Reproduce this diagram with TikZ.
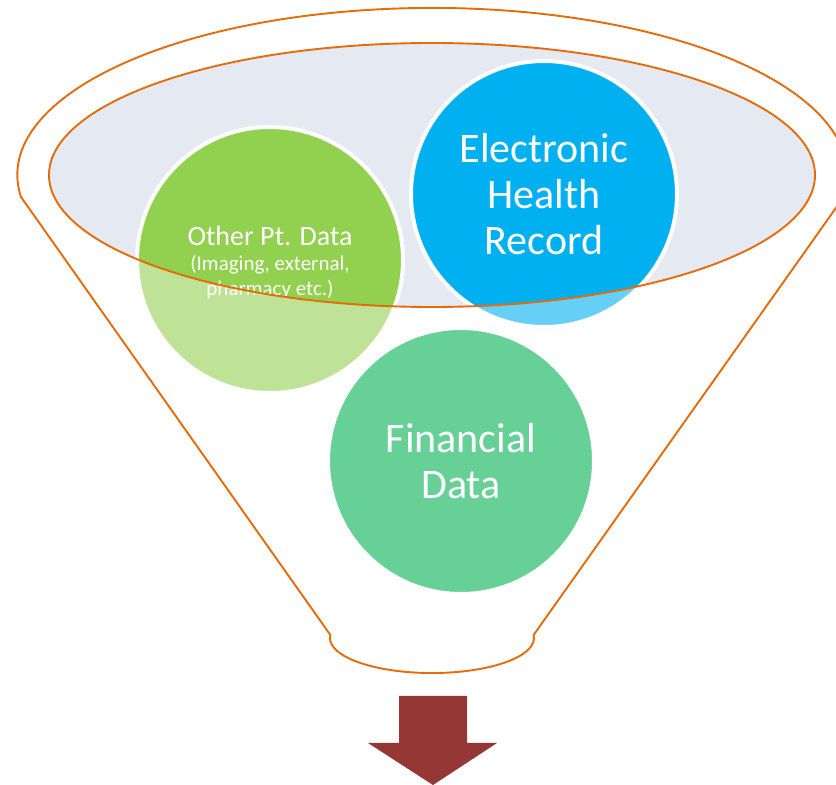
\documentclass[tikz,border=0pt]{standalone}
\usepackage{fontspec}
\setmainfont{Carlito}
\definecolor{funnelline}{HTML}{E46C0A}
\definecolor{innerfill}{HTML}{E4E9F2}
\definecolor{greenS}{HTML}{92D050}
\definecolor{greenL}{HTML}{BEE396}
\definecolor{blueS}{HTML}{00B0F0}
\definecolor{blueL}{HTML}{66CFF6}
\definecolor{finL}{HTML}{66D096}
\definecolor{arrowc}{HTML}{953735}
\tikzset{
  funnelstroke/.style={draw=funnelline, line width=1.9pt},
  bubble/.style={circle, minimum size=266pt, inner sep=0pt, outer sep=0pt},
  bubbletext/.style={text=white, align=center, inner sep=0pt},
  ringborder/.style={draw=white, line width=4pt},
}
\begin{document}
\begin{tikzpicture}[x=1pt,y=1pt]
\useasboundingbox (0,0) rectangle (836,785);
\clip (0,0) rectangle (836,785);
\coordinate (c) at (432,610);
% inner ellipse fill
\fill[innerfill] (c) ellipse [x radius=383pt, y radius=132pt];
% bubbles, light fills
\node[bubble, fill=greenL] (other) at (270,525) {};
\node[bubble, fill=blueL] (ehr) at (544,591) {};
\node[bubble, fill=finL, ringborder] (fin) at (461,324) {};
% strong fills inside inner ellipse
\begin{scope}
  \clip (c) ellipse [x radius=383pt, y radius=132pt];
  \fill[greenS] (other.center) circle [radius=133pt];
  \fill[blueS] (ehr.center) circle [radius=133pt];
\end{scope}
\draw[ringborder] (other.center) circle [radius=133pt];
\draw[ringborder] (ehr.center) circle [radius=133pt];
% texts
\node[bubbletext, font=\fontsize{42}{46}\selectfont] (ehrtext) at (ehr.center) {Electronic\\Health\\Record};
\node[bubbletext, font=\fontsize{42}{46}\selectfont] (fintext) at (fin.center) {Financial\\Data};
\node[bubbletext, font=\fontsize{28}{25}\selectfont] (othertext) at ([yshift=-2pt]other.center) {Other Pt. Data\\\fontsize{21}{25}\selectfont(Imaging, external,\\\fontsize{21}{25}\selectfont pharmacy etc.)};
% funnel outlines
\draw[funnelstroke] (c) ellipse [x radius=383pt, y radius=132pt];
\draw[funnelstroke] (21,588) arc [start angle=187.6, end angle=-7.6, x radius=415pt, y radius=167pt]
  -- (533.6,150) arc [start angle=5, end angle=-185, x radius=102pt, y radius=35pt] -- cycle;
% arrow
\fill[arrowc] (399,89) -- (467,89) -- (467,42) -- (497,42) -- (433,0) -- (368,42) -- (399,42) -- cycle;
\end{tikzpicture}
\end{document}
